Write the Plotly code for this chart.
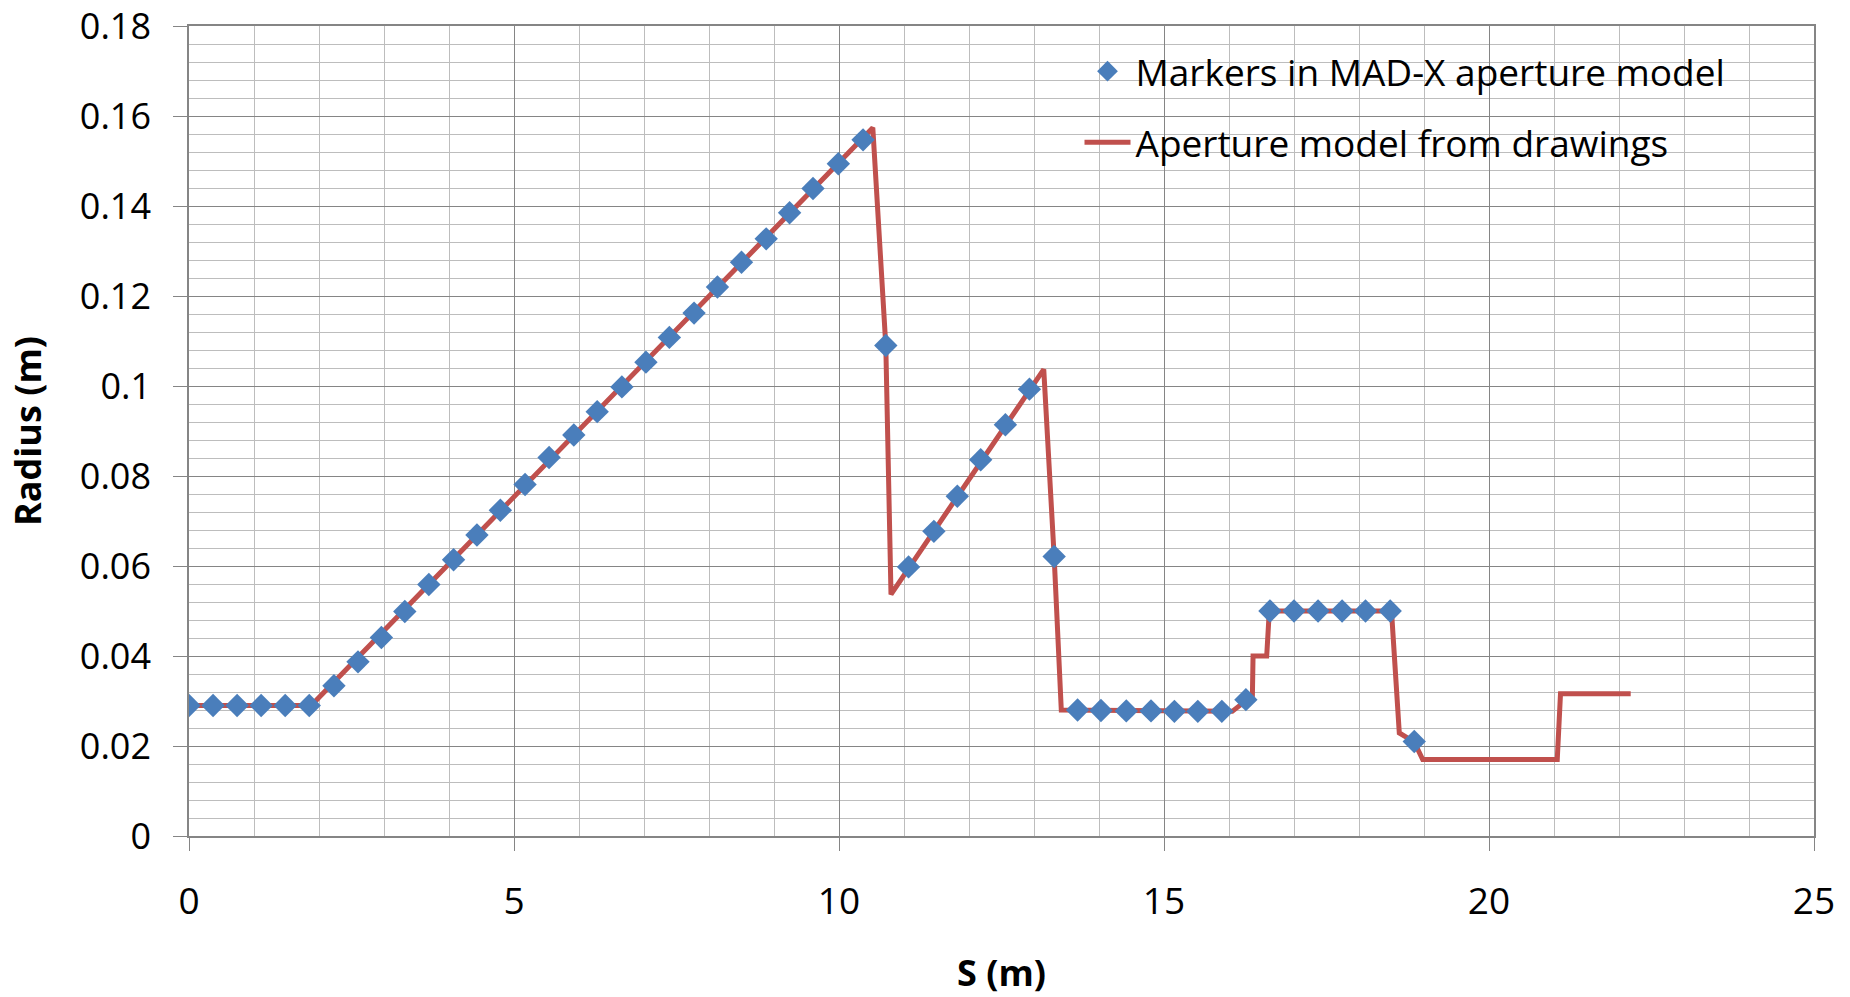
import plotly.graph_objects as go

# Aperture model from drawings: (S, radius) vertices of the piecewise profile
s_drawings = [0.0, 1.88, 10.52, 10.72, 10.80, 13.15, 13.31, 13.42, 16.05, 16.26,
              16.36, 16.37, 16.58, 16.62, 18.50, 18.62, 18.85, 18.98, 21.05, 21.10, 22.18]
r_drawings = [0.0290, 0.0290, 0.1574, 0.1090, 0.0537, 0.1037, 0.0621, 0.0280, 0.0277, 0.0303,
              0.0312, 0.0400, 0.0400, 0.0500, 0.0500, 0.0229, 0.0209, 0.0170, 0.0170, 0.0316, 0.0316]

# Aperture markers defined in the MAD-X model
s_markers = [0.00, 0.37, 0.74, 1.11, 1.48, 1.85,
             2.23, 2.60, 2.96, 3.32, 3.69, 4.07, 4.43, 4.79, 5.17, 5.54, 5.92, 6.28,
             6.66, 7.03, 7.39, 7.77, 8.13, 8.50, 8.88, 9.24, 9.60, 9.99, 10.37,
             10.72, 11.07, 11.46, 11.82, 12.18, 12.56, 12.93, 13.31,
             13.67, 14.03, 14.42, 14.80, 15.16, 15.52, 15.89, 16.26,
             16.63, 17.00, 17.37, 17.74, 18.10, 18.48, 18.85]
r_markers = [0.0290, 0.0290, 0.0290, 0.0290, 0.0290, 0.0290,
             0.0334, 0.0387, 0.0441, 0.0499, 0.0559, 0.0614, 0.0669, 0.0724, 0.0781, 0.0841, 0.0891, 0.0943,
             0.0998, 0.1053, 0.1108, 0.1162, 0.1220, 0.1275, 0.1327, 0.1385, 0.1439, 0.1494, 0.1547,
             0.1090, 0.0598, 0.0677, 0.0755, 0.0836, 0.0914, 0.0993, 0.0621,
             0.0280, 0.0279, 0.0278, 0.0278, 0.0277, 0.0277, 0.0277, 0.0303,
             0.0500, 0.0500, 0.0500, 0.0500, 0.0500, 0.0500, 0.0210]

x_tickvals = [0, 5, 10, 15, 20, 25]
x_ticktext = ["0", "5", "10", "15", "20", "25"]
y_tickvals = [0, 0.02, 0.04, 0.06, 0.08, 0.10, 0.12, 0.14, 0.16, 0.18]
y_ticktext = ["0", "0.02", "0.04", "0.06", "0.08", "0.1", "0.12", "0.14", "0.16", "0.18"]

FONT = "'Open Sans', Lato, sans-serif"
MAJOR = "#858585"
MINOR = "#BDBDBD"

fig = go.Figure()

# profile line first so the markers sit on top of it
fig.add_trace(go.Scatter(
    x=s_drawings, y=r_drawings, mode="lines",
    name="Aperture model from drawings",
    line=dict(color="#C0504D", width=5),
    legendgroup="b", legendrank=2,
))
fig.add_trace(go.Scatter(
    x=s_markers, y=r_markers, mode="markers",
    name="Markers in MAD-X aperture model",
    marker=dict(symbol="diamond", size=18, color="#4A7EBB", line=dict(width=0)),
    legendgroup="a", legendrank=1,
))

fig.update_layout(
    width=1850, height=997,
    margin=dict(l=189, r=36, t=26, b=161),
    paper_bgcolor="white", plot_bgcolor="white",
    font=dict(family=FONT, size=36, color="black"),
    showlegend=True,
    legend=dict(
        x=0.548, y=0.982, xanchor="left", yanchor="top",
        bgcolor="rgba(0,0,0,0)", borderwidth=0,
        font=dict(family=FONT, size=37, color="black"),
        traceorder="grouped", tracegroupgap=20,
        itemwidth=46,
    ),
    xaxis=dict(
        range=[0, 25], tickvals=x_tickvals, ticktext=x_ticktext,
        tickfont=dict(family=FONT, size=37),
        showgrid=True, gridcolor=MAJOR, gridwidth=1.4,
        minor=dict(dtick=1, tick0=0, showgrid=True, gridcolor=MINOR, gridwidth=1.3),
        showline=True, linecolor=MAJOR, linewidth=1.5, mirror=True,
        ticks="outside", ticklen=13, tickcolor=MAJOR, tickwidth=1.3,
        ticklabelstandoff=19, ticklabeloverflow="allow",
        zeroline=False, automargin=False,
        title=dict(text="<b>S (m)</b>", font=dict(family=FONT, size=36), standoff=41),
    ),
    yaxis=dict(
        range=[0, 0.18], tickvals=y_tickvals, ticktext=y_ticktext,
        tickfont=dict(family=FONT, size=36),
        showgrid=True, gridcolor=MAJOR, gridwidth=1.4,
        minor=dict(dtick=0.004, tick0=0, showgrid=True, gridcolor=MINOR, gridwidth=1.3),
        showline=True, linecolor=MAJOR, linewidth=1.5, mirror=True,
        ticks="outside", ticklen=14, tickcolor=MAJOR, tickwidth=1.3,
        ticklabelstandoff=15, ticklabeloverflow="allow",
        zeroline=False, automargin=False,
        title=dict(text="<b>Radius (m)</b>", font=dict(family=FONT, size=36), standoff=27),
    ),
)

fig.write_html("out.html")
